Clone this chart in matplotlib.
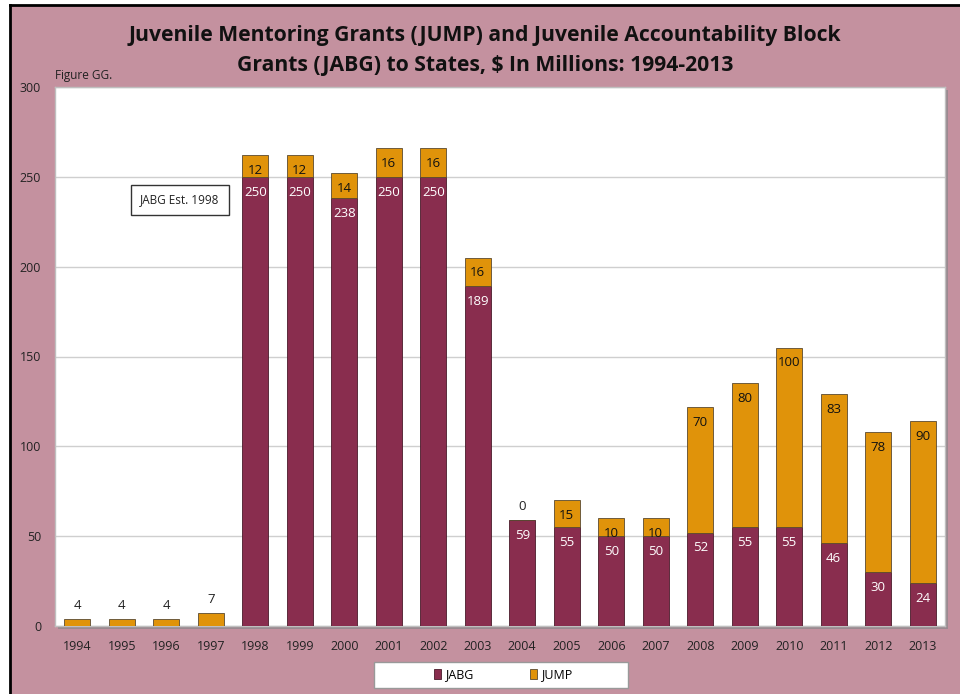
import matplotlib
matplotlib.use("Agg")
import matplotlib.pyplot as plt
from matplotlib.patches import Rectangle
import numpy as np

plt.rcParams['font.family'] = ['Open Sans', 'DejaVu Sans']

years = [str(y) for y in range(1994, 2014)]
jabg = [0, 0, 0, 0, 250, 250, 238, 250, 250, 189, 59, 55, 50, 50, 52, 55, 55, 46, 30, 24]
jump = [4, 4, 4, 7, 12, 12, 14, 16, 16, 16, 0, 15, 10, 10, 70, 80, 100, 83, 78, 90]

C_JABG = '#892D4E'
C_JUMP = '#E0930A'
C_BG = '#C4919F'

W, H = 960, 694
fig = plt.figure(figsize=(W / 100, H / 100), dpi=100, facecolor='white')

# pink panel with dark top/left edges
fig.patches.append(Rectangle((10 / W, 0), 1, 1 - 5 / H, transform=fig.transFigure,
                             facecolor=C_BG, edgecolor='none', zorder=0))
fig.lines.append(plt.Line2D([10 / W, 1], [1 - 5 / H, 1 - 5 / H], transform=fig.transFigure,
                            color='black', lw=2))
fig.lines.append(plt.Line2D([10 / W, 10 / W], [0, 1 - 5 / H], transform=fig.transFigure,
                            color='black', lw=2))

left, right, top, bottom = 55, 945, 87, 626
ax = fig.add_axes([left / W, 1 - bottom / H, (right - left) / W, (bottom - top) / H])

# drop shadow behind plot area
fig.patches.append(Rectangle(((left + 3) / W, 1 - (bottom + 3) / H), (right - left) / W,
                             (bottom - top) / H, transform=fig.transFigure,
                             facecolor='#9A8A90', edgecolor='none', zorder=0.5))
ax.set_zorder(1)
ax.set_facecolor('white')

x = np.arange(len(years))
bw = 0.59
jabg_a = np.array(jabg)
jump_a = np.array(jump)

ax.bar(x, jabg_a, bw, color=C_JABG, edgecolor='#4A1A2A', linewidth=0.6, label='JABG', zorder=3)
ax.bar(x, jump_a, bw, bottom=jabg_a, color=C_JUMP, edgecolor='#5A4A30', linewidth=0.6,
       label='JUMP', zorder=3)

ax.set_ylim(0, 300)
ax.set_xlim(-0.5, len(years) - 0.5)
ax.set_yticks(range(0, 301, 50))
ax.set_xticks(x)
ax.set_xticklabels(years)
ax.tick_params(axis='both', length=0, labelsize=9, colors='#222222')
ax.tick_params(axis='y', pad=10)
ax.tick_params(axis='x', pad=10)
ax.grid(axis='y', color='#CFCFCF', linewidth=1, zorder=0)
ax.set_axisbelow(True)
for s in ax.spines.values():
    s.set_color('#BFBFBF')
    s.set_linewidth(1)

# value labels
off = 8.5
for i in range(len(years)):
    if jabg[i] > 0:
        ax.text(x[i], jabg[i] - off, str(jabg[i]), ha='center', va='center',
                color='white', fontsize=9.5, zorder=4)
    total = jabg[i] + jump[i]
    if jump[i] < 10:
        ax.text(x[i], total + 7.5, str(jump[i]), ha='center', va='center',
                color='#222222', fontsize=9.5, zorder=4)
    else:
        ax.text(x[i], total - off, str(jump[i]), ha='center', va='center',
                color='#111111', fontsize=9.5, zorder=4)

ax.annotate('JABG Est. 1998', xy=((180 - left) / (right - left), (bottom - 200) / (bottom - top)),
            xycoords='axes fraction', ha='center', va='center', fontsize=8.5, color='#222222',
            bbox=dict(boxstyle='square,pad=0.75', facecolor='white', edgecolor='#333333', lw=1),
            zorder=5)

fig.text(485 / W, 1 - 35 / H, 'Juvenile Mentoring Grants (JUMP) and Juvenile Accountability Block',
         ha='center', va='center', fontsize=15.2, fontweight='bold', color='#111111')
fig.text(485 / W, 1 - 65 / H, 'Grants (JABG) to States, $ In Millions: 1994-2013',
         ha='center', va='center', fontsize=15.2, fontweight='bold', color='#111111')
fig.text(55 / W, 1 - 76 / H, 'Figure GG.', ha='left', va='center', fontsize=8.5, color='#222222')

# legend box
fig.patches.append(Rectangle((374 / W, 1 - 688 / H), (628 - 374) / W, 26 / H,
                             transform=fig.transFigure, facecolor='white',
                             edgecolor='#999999', lw=1, zorder=2))
leg = fig.legend(loc='center', bbox_to_anchor=(503 / W, 1 - 675 / H), ncol=2, frameon=False,
                 fontsize=9, handlelength=0.6, handleheight=0.9, columnspacing=4.5,
                 borderpad=0.2, handletextpad=0.3)
leg.set_zorder(3)

fig.savefig('out.png', dpi=100, facecolor=fig.get_facecolor())
